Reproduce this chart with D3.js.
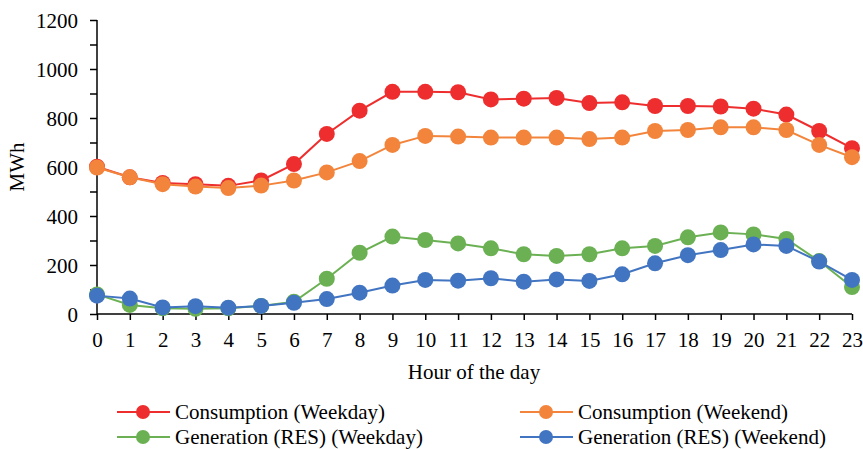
<!DOCTYPE html>
<html>
<head>
<meta charset="utf-8">
<script src="https://cdn.jsdelivr.net/npm/d3@7"></script>
<style>
  html, body { margin: 0; padding: 0; background: #fff; }
  svg { display: block; }
  text { font-family: "Liberation Serif", "Times New Roman", serif; fill: #000; }
</style>
</head>
<body>
<svg id="chart" width="863" height="449"></svg>
<script>
const hours = [0,1,2,3,4,5,6,7,8,9,10,11,12,13,14,15,16,17,18,19,20,21,22,23];
const consumptionWeekday = [601,558,535,530,523,545,612,735,830,907,907,905,876,879,882,861,864,849,849,847,838,814,747,677];
const consumptionWeekend = [598,558,530,520,514,524,545,578,624,690,727,724,720,720,720,714,720,747,751,762,762,751,690,640];
const generationWeekday = [80,37,23,21,23,33,50,144,250,316,302,288,268,244,237,244,268,278,313,333,325,306,216,110];
const generationWeekend = [75,63,27,32,26,33,46,61,87,116,139,136,146,132,141,135,162,207,240,261,284,278,214,139];
const yTicks = [0,200,400,600,800,1000,1200];
const seriesNames = ["Consumption (Weekday)","Consumption (Weekend)","Generation (RES) (Weekday)","Generation (RES) (Weekend)"];
const seriesColors = ["#ee2e2e","#f2853b","#6bb154","#4174c1"];

const series = [consumptionWeekday, consumptionWeekend, generationWeekday, generationWeekend];
const drawOrder = [0,1,2,3];

const svg = d3.select("#chart");
const mLeft = 97, mRight = 852, mTop = 20, mBottom = 314;
const fontSize = 21;

const x = d3.scaleLinear().domain([0,23]).range([mLeft,mRight]);
const y = d3.scaleLinear().domain([0,1200]).range([mBottom,mTop]);

// Y axis
const yAxis = d3.axisLeft(y).tickValues(d3.range(0,1201,100)).tickSize(7)
  .tickFormat(d => yTicks.includes(d) ? d : "");
const gy = svg.append("g").attr("transform",`translate(${mLeft},0)`).call(yAxis);
gy.select(".domain").attr("stroke","#000").attr("stroke-width",1.5).attr("d",`M0,${mTop}V${mBottom}`);
gy.selectAll(".tick line").attr("stroke","#000").attr("stroke-width",1.5);
gy.selectAll(".tick text").attr("font-size",fontSize).attr("x",-19).attr("dy","0.34em")
  .style("font-family","'Liberation Serif', serif");

// X axis
const xAxis = d3.axisBottom(x).tickValues(hours).tickSize(6).tickFormat(d => d);
const gx = svg.append("g").attr("transform",`translate(0,${mBottom})`).call(xAxis);
gx.select(".domain").attr("stroke","#000").attr("stroke-width",1.5).attr("d",`M${mLeft},0H${mRight}`);
gx.selectAll(".tick line").attr("stroke","#000").attr("stroke-width",1.5);
gx.selectAll(".tick text").attr("font-size",fontSize).attr("y",18).attr("dy","0.71em")
  .style("font-family","'Liberation Serif', serif");

// Axis titles
svg.append("text").attr("x",474).attr("y",379).attr("text-anchor","middle")
  .attr("font-size",fontSize).text("Hour of the day");
svg.append("text").attr("transform","translate(24,167) rotate(-90)").attr("text-anchor","middle")
  .attr("font-size",fontSize).text("MWh");

// Lines and markers
const line = d3.line().x((d,i) => x(hours[i])).y(d => y(d));
drawOrder.forEach(k => {
  const g = svg.append("g");
  g.append("path").datum(series[k]).attr("d",line).attr("fill","none")
    .attr("stroke",seriesColors[k]).attr("stroke-width",2);
  g.selectAll("circle").data(series[k]).enter().append("circle")
    .attr("cx",(d,i) => x(hours[i])).attr("cy",d => y(d)).attr("r",8)
    .attr("fill",seriesColors[k]);
});

// Legend
const legendPos = [[117,412],[520,412],[117,437],[520,437]];
seriesNames.forEach((name,k) => {
  const [lx,ly] = legendPos[k];
  const g = svg.append("g").attr("transform",`translate(${lx},${ly})`);
  g.append("line").attr("x1",0).attr("x2",53).attr("y1",0).attr("y2",0)
    .attr("stroke",seriesColors[k]).attr("stroke-width",2);
  g.append("circle").attr("cx",26).attr("cy",0).attr("r",7).attr("fill",seriesColors[k]);
  g.append("text").attr("x",58).attr("y",0).attr("dy","0.35em").attr("font-size",fontSize).text(name);
});
</script>
</body>
</html>
